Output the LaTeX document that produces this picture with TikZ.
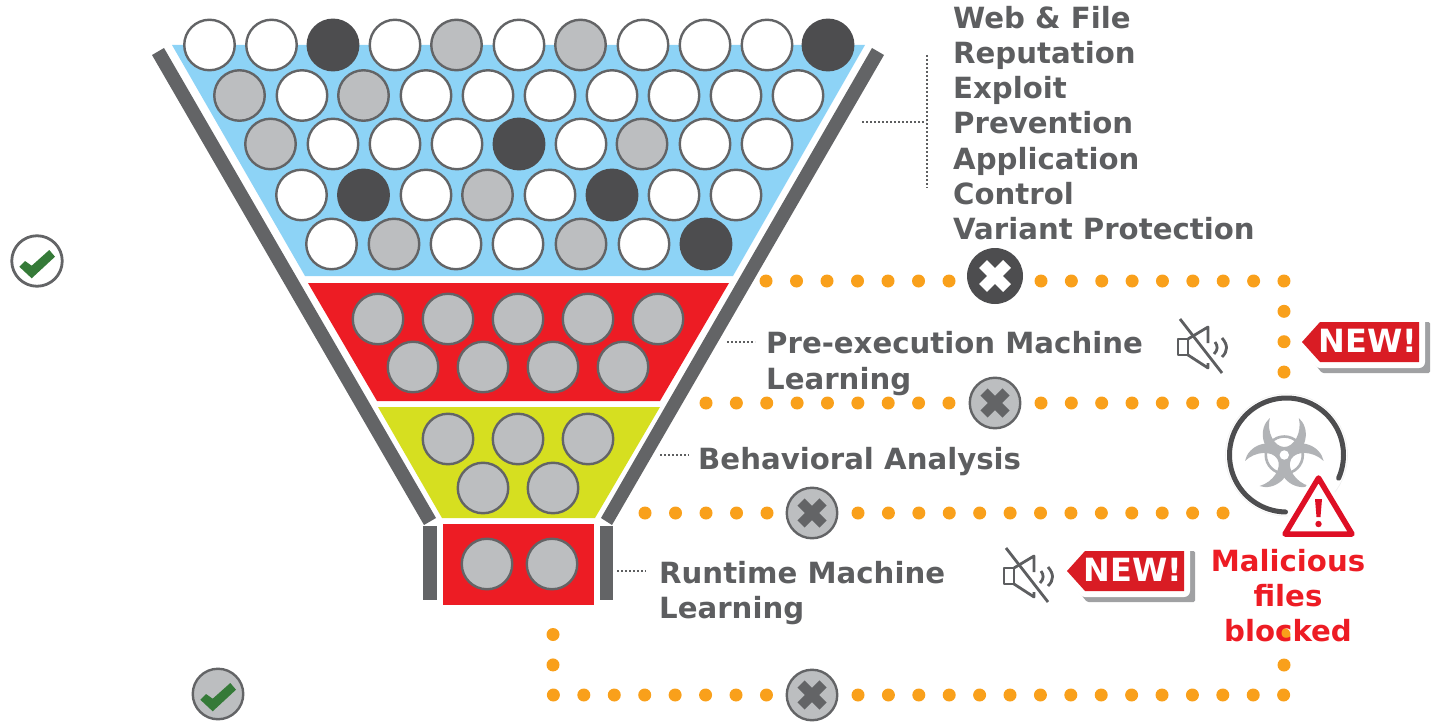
\documentclass[tikz,border=0pt]{standalone}
\usepackage{fontspec}
\setmainfont{DejaVu Sans}
\definecolor{ballline}{HTML}{636466}
\definecolor{ballgrey}{HTML}{BCBEC0}
\definecolor{balldark}{HTML}{4D4D4F}
\definecolor{funblue}{HTML}{8DD3F6}
\definecolor{funred}{HTML}{ED1C24}
\definecolor{funyellow}{HTML}{D6DF20}
\definecolor{dotorange}{HTML}{F9A01B}
\definecolor{labelgrey}{HTML}{5D5E60}
\definecolor{tagred}{HTML}{D91C24}
\definecolor{tagshadow}{HTML}{A0A1A3}
\definecolor{checkgreen}{HTML}{357A38}
\definecolor{biogrey}{HTML}{B1B3B6}
\definecolor{warnred}{HTML}{DE0F25}
\tikzset{
  ball/.style={circle,minimum size=50.5pt,inner sep=0pt,line width=2.4pt,draw=ballline},
  whiteball/.style={ball,fill=white},
  greyball/.style={ball,fill=ballgrey},
  darkball/.style={ball,fill=balldark,draw=balldark},
  dotline/.style={line width=13pt,line cap=round,color=dotorange,dash pattern=on 0pt off #1pt},
  leader/.style={line width=2.4pt,color=labelgrey,dash pattern=on 2pt off 2pt},
  funnelbar/.style={fill=ballline,draw=none},
  lbl/.style={inner sep=0pt,anchor=north west,align=left,text=labelgrey,font=\fontsize{29.2}{35.2}\selectfont\bfseries},
  redlbl/.style={inner sep=0pt,anchor=north,align=center,text=funred,font=\fontsize{29.2}{35.2}\selectfont\bfseries},
  newlbl/.style={inner sep=0pt,text=white,font=\fontsize{32}{36}\selectfont\bfseries},
  speaker/.style={line width=2.8pt,draw=labelgrey,line join=round},
}
\begin{document}
\begin{tikzpicture}[x=1pt,y=-1pt]
\useasboundingbox (0,0) rectangle (1441,725);
% funnel bands
\fill[funblue] (172,45) -- (865,45) -- (733,276) -- (305,276) -- cycle;
\fill[funred] (308,283) -- (729,283) -- (660,401) -- (377,401) -- cycle;
\fill[funyellow] (378,407) -- (660,407) -- (595,518) -- (442,518) -- cycle;
\fill[funred] (443,524) rectangle (594,605);
% funnel walls
\fill[funnelbar] (152,55) -- (164,48) -- (436,518) -- (424,525) -- cycle;
\fill[funnelbar] (884,55) -- (872,48) -- (601,518) -- (612,525) -- cycle;
\fill[funnelbar] (423,526) rectangle (437,600);
\fill[funnelbar] (600,526) rectangle (613,600);
% balls
\foreach \x/\s [count=\i] in {209.5/whiteball,271.5/whiteball,333/darkball,395/whiteball,456.5/greyball,519/whiteball,580.5/greyball,643/whiteball,705/whiteball,767/whiteball,828/darkball}
  \node[\s] (ra\i) at (\x,45) {};
\foreach \x/\s [count=\i] in {239.5/greyball,302/whiteball,363.5/greyball,426/whiteball,488/whiteball,550/whiteball,612/whiteball,674/whiteball,736/whiteball,798/whiteball}
  \node[\s] (rb\i) at (\x,95.5) {};
\foreach \x/\s [count=\i] in {270.5/greyball,333/whiteball,395/whiteball,457/whiteball,519/darkball,581/whiteball,642/greyball,705/whiteball,767/whiteball}
  \node[\s] (rc\i) at (\x,144) {};
\foreach \x/\s [count=\i] in {301.5/whiteball,363.5/darkball,426/whiteball,487.5/greyball,550/whiteball,612/darkball,674/whiteball,736/whiteball}
  \node[\s] (rd\i) at (\x,195) {};
\foreach \x/\s [count=\i] in {331.5/whiteball,394/greyball,456/whiteball,518/whiteball,581/greyball,644/whiteball,706/darkball}
  \node[\s] (re\i) at (\x,244) {};
\foreach \x [count=\i] in {378,448,518,588,658} \node[greyball] (sa\i) at (\x,319) {};
\foreach \x [count=\i] in {413,483,553,623} \node[greyball] (sb\i) at (\x,367) {};
\foreach \x [count=\i] in {448,518,588} \node[greyball] (ya\i) at (\x,439) {};
\foreach \x [count=\i] in {483,553} \node[greyball] (yb\i) at (\x,488) {};
\foreach \x [count=\i] in {487,552} \node[greyball] (za\i) at (\x,564) {};
% leaders
\coordinate (la) at (862,122); \coordinate (lb) at (926,122);
\coordinate (lc) at (927,55); \coordinate (ld) at (927,188);
\draw[leader] (la) -- (lb);
\draw[leader] (lc) -- (ld);
\coordinate (le) at (727,342); \coordinate (lf) at (755,342);
\draw[leader] (le) -- (lf);
\coordinate (lg) at (660,455); \coordinate (lh) at (689,455);
\draw[leader] (lg) -- (lh);
\coordinate (li) at (617,571); \coordinate (lj) at (646,571);
\draw[leader] (li) -- (lj);
% dotted routes
\coordinate (da1) at (766,281); \coordinate (da2) at (949.5,281);
\coordinate (da3) at (1041,281); \coordinate (da4) at (1284,281); \coordinate (da5) at (1284,372.5);
\draw[dotline=30.5] (da1) -- (da2);
\draw[dotline=30.37] (da3) -- (da4) -- (da5);
\coordinate (db1) at (706,403); \coordinate (db2) at (949.5,403);
\coordinate (db3) at (1041,403); \coordinate (db4) at (1223.5,403);
\draw[dotline=30.37] (db1) -- (db2);
\draw[dotline=30.33] (db3) -- (db4);
\coordinate (dc1) at (645,513); \coordinate (dc2) at (767.5,513);
\coordinate (dc3) at (858,513); \coordinate (dc4) at (1223.5,513);
\draw[dotline=30.5] (dc1) -- (dc2);
\draw[dotline=30.42] (dc3) -- (dc4);
\coordinate (dd1) at (553,634.5); \coordinate (dd2) at (553,695); \coordinate (dd3) at (767.5,695);
\coordinate (dd4) at (858,695); \coordinate (dd5) at (1284,695); \coordinate (dd6) at (1284,634);
\draw[dotline=30.44] (dd1) -- (dd2) -- (dd3);
\draw[dotline=30.4] (dd4) -- (dd5) -- (dd6);
% blocked markers
\node[circle,minimum size=56pt,inner sep=0pt,fill=balldark] (xa) at (995,276) {};
\draw[line width=11pt,white] (983,264) -- (1007,288);
\draw[line width=11pt,white] (983,288) -- (1007,264);
\foreach \n/\x/\y in {xb/995/403,xc/812/513,xd/812/695}{
  \node[greyball] (\n) at (\x,\y) {};
  \draw[line width=10pt,ballline] (\x-11,\y-11) -- (\x+11,\y+11);
  \draw[line width=10pt,ballline] (\x-11,\y+11) -- (\x+11,\y-11);
}
% passed markers
\node[circle,minimum size=50.5pt,inner sep=0pt,line width=2.8pt,draw=ballline,fill=white] (oka) at (37,261) {};
\node[greyball] (okb) at (218,694) {};
\foreach \x/\y in {37/261,218/694}
  \fill[checkgreen] (\x-17.7,\y+5.7) -- (\x-12,\y) -- (\x-5.3,\y+4.7) -- (\x+12.3,\y-11) -- (\x+18,\y-4.3) -- (\x-5.3,\y+17.3) -- cycle;
% labels
\node[lbl] (t1) at (953,6) {Web \& File\\Reputation\\Exploit\\Prevention\\Application\\Control\\Variant Protection};
\node[lbl] (t2) at (766,331.5) {Pre-execution Machine\\Learning};
\node[lbl] (t3) at (698,447) {Behavioral Analysis};
\node[lbl] (t4) at (659,561) {Runtime Machine\\Learning};
% speakers
\foreach \dx/\dy in {0/0,-174/229}{
\begin{scope}[shift={(\dx,\dy)}]
  \draw[speaker] (1178,339) rectangle (1188,355);
  \draw[speaker] (1188,339) -- (1208,327) -- (1208,343);
  \draw[speaker] (1188,355) -- (1208,368) -- (1208,363);
  \draw[speaker] (1180,319) -- (1222,373);
  \draw[speaker] (1215,342) .. controls (1218,346) and (1218,350) .. (1214,354);
  \draw[speaker] (1222,338) .. controls (1228,345) and (1228,351) .. (1222,357);
\end{scope}
}
% new tags
\foreach \nm/\dx/\dy in {na/0/0,nb/-235/229}{
\begin{scope}[shift={(\dx,\dy)}]
  \fill[tagshadow,rounded corners=1.5pt] (1331,322) -- (1430,322) -- (1430,373) -- (1322,373) -- (1313,362) -- cycle;
  \draw[white,line width=12pt,line join=round,fill=white] (1302,342) -- (1320,322) -- (1419,322) -- (1419,362) -- (1320,362) -- cycle;
  \fill[tagred] (1302,342) -- (1320,322) -- (1419,322) -- (1419,362) -- (1320,362) -- cycle;
  \node[newlbl] (\nm) at (1368,341) {NEW!};
\end{scope}
}
% biohazard
\node[circle,minimum size=122pt,inner sep=0pt,fill=white,draw=black!6,line width=.6pt] (bio) at (1286.5,455) {};
\draw[balldark,line width=5pt,line cap=round] plot[domain=91:384,samples=90] ({1286.5+57*cos(\x)},{455+57*sin(\x)});
\begin{scope}[shift={(1284.3,455)}]
  \foreach \r in {0,120,240}{
    \fill[biogrey,rotate=\r] (-14.5,-37) .. controls (-26,-27) and (-24,-4) .. (-4,3)
      -- (4,3) .. controls (24,-4) and (26,-27) .. (14.5,-37)
      .. controls (18,-23) and (10,-8) .. (0,-8)
      .. controls (-10,-8) and (-18,-23) .. (-14.5,-37) -- cycle;
  }
  \draw[biogrey,line width=2.6pt] (0,0) circle (18.5);
  \fill[white] (0,0) circle (4.7);
\end{scope}
% warning triangle
\draw[white,line width=13pt,line join=round,fill=white] (1318.5,478) -- (1352,534) -- (1285,534) -- cycle;
\draw[warnred,line width=5.5pt,line join=round,fill=white] (1318.5,478) -- (1352,534) -- (1285,534) -- cycle;
\fill[warnred] (1315,499) -- (1322,499) -- (1320.5,517) -- (1316.5,517) -- cycle;
\fill[warnred] (1318.5,524) circle (3.2);
\node[redlbl] (t5) at (1288,549) {Malicious\\files\\blocked};
\end{tikzpicture}
\end{document}
